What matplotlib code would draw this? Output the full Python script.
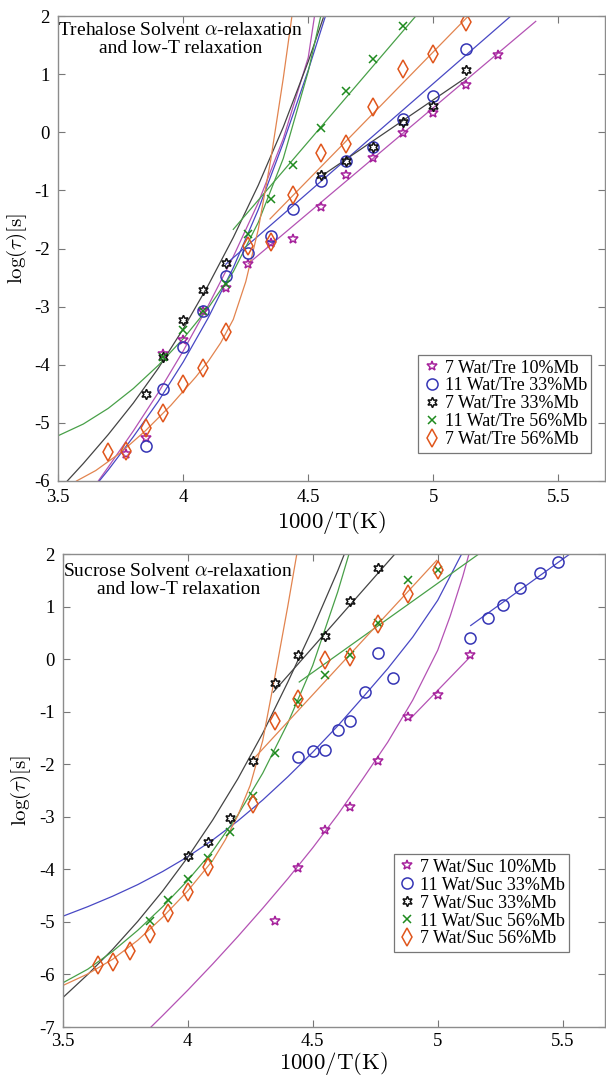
import matplotlib
matplotlib.use("Agg")
import matplotlib.pyplot as plt

plt.rcParams["font.family"] = ["Liberation Serif", "DejaVu Serif"]
plt.rcParams["mathtext.fontset"] = "cm"

# ---- Trehalose panel: measured points ----
tre_x_10 = [3.77, 3.85, 3.92, 4.0, 4.08, 4.17, 4.26, 4.35, 4.44, 4.55, 4.65, 4.76, 4.88, 5.0, 5.13, 5.26]
tre_y_10 = [-5.54, -5.26, -3.82, -3.57, -3.07, -2.68, -2.26, -1.91, -1.84, -1.29, -0.74, -0.45, -0.01, 0.33, 0.81, 1.33]
tre_x_33b = [3.85, 3.92, 4.0, 4.08, 4.17, 4.26, 4.35, 4.44, 4.55, 4.65, 4.76, 4.88, 5.0, 5.13]
tre_y_33b = [-5.39, -4.42, -3.69, -3.07, -2.48, -2.08, -1.78, -1.32, -0.83, -0.49, -0.26, 0.23, 0.62, 1.44]
tre_x_33k = [3.85, 3.92, 4.0, 4.08, 4.17, 4.55, 4.65, 4.76, 4.88, 5.0, 5.13]
tre_y_33k = [-4.51, -3.87, -3.23, -2.71, -2.25, -0.74, -0.49, -0.26, 0.18, 0.45, 1.07]
tre_x_56g = [3.92, 4.0, 4.08, 4.17, 4.26, 4.35, 4.44, 4.55, 4.65, 4.76, 4.88]
tre_y_56g = [-3.87, -3.40, -3.07, -2.61, -1.75, -1.15, -0.57, 0.08, 0.72, 1.27, 1.83]
tre_x_56o = [3.70, 3.77, 3.85, 3.92, 4.0, 4.08, 4.17, 4.26, 4.35, 4.44, 4.55, 4.65, 4.76, 4.88, 5.0, 5.13]
tre_y_56o = [-5.50, -5.49, -5.09, -4.83, -4.33, -4.05, -3.43, -1.95, -1.88, -1.07, -0.36, -0.20, 0.44, 1.09, 1.34, 1.90]

# alpha-relaxation fit curves
tre_fx_10 = [3.66, 3.7, 3.8, 3.9, 4.0, 4.1, 4.2, 4.3, 4.4, 4.5, 4.525]
tre_fy_10 = [-6.0, -5.76, -5.14, -4.48, -3.76, -2.98, -2.14, -1.21, -0.11, 1.29, 2.0]
tre_fx_33b = [3.664, 3.7, 3.8, 3.9, 4.0, 4.1, 4.2, 4.3, 4.4, 4.5, 4.571]
tre_fy_33b = [-6.0, -5.81, -5.24, -4.63, -3.95, -3.19, -2.33, -1.33, -0.18, 1.07, 2.03]
tre_fx_33k = [3.536, 3.6, 3.7, 3.8, 3.9, 4.0, 4.1, 4.2, 4.3, 4.4, 4.5, 4.56]
tre_fy_33k = [-6.0, -5.70, -5.20, -4.66, -4.06, -3.38, -2.63, -1.81, -0.91, 0.09, 1.22, 1.97]
tre_fx_56g = [3.5, 3.6, 3.7, 3.8, 3.9, 4.0, 4.1, 4.2, 4.3, 4.4, 4.5, 4.55]
tre_fy_56g = [-5.22, -5.02, -4.75, -4.41, -4.01, -3.55, -3.02, -2.40, -1.55, -0.45, 1.05, 2.0]
tre_fx_56o = [3.573, 3.65, 3.75, 3.85, 3.95, 4.05, 4.1, 4.15, 4.2, 4.25, 4.3, 4.35, 4.4, 4.434]
tre_fy_56o = [-6.0, -5.82, -5.51, -5.13, -4.70, -4.21, -3.94, -3.62, -3.22, -2.57, -1.67, -0.47, 0.93, 1.98]

# low-T relaxation lines
tre_lx_10, tre_ly_10 = [4.26, 5.41], [-2.26, 1.91]
tre_lx_33b, tre_ly_33b = [4.17, 5.31], [-2.27, 2.0]
tre_lx_33k, tre_ly_33k = [4.55, 5.13], [-0.76, 0.94]
tre_lx_56g, tre_ly_56g = [4.2, 4.93], [-1.67, 2.0]
tre_lx_56o, tre_ly_56o = [4.347, 5.14], [-1.49, 2.0]

# ---- Sucrose panel: measured points ----
suc_x_10 = [4.35, 4.44, 4.55, 4.65, 4.76, 4.88, 5.0, 5.13]
suc_y_10 = [-4.99, -3.97, -3.25, -2.82, -1.93, -1.10, -0.69, 0.08]
suc_x_33b = [4.44, 4.50, 4.55, 4.60, 4.65, 4.71, 4.76, 4.82, 5.13, 5.20, 5.26, 5.33, 5.41, 5.48]
suc_y_33b = [-1.86, -1.74, -1.73, -1.35, -1.18, -0.63, 0.11, -0.36, 0.41, 0.78, 1.03, 1.36, 1.64, 1.85]
suc_x_33k = [4.0, 4.08, 4.17, 4.26, 4.35, 4.44, 4.55, 4.65, 4.76]
suc_y_33k = [-3.75, -3.48, -3.02, -1.93, -0.45, 0.08, 0.44, 1.10, 1.73]
suc_x_56g = [3.85, 3.92, 4.0, 4.08, 4.17, 4.26, 4.35, 4.44, 4.55, 4.65, 4.76, 4.88, 5.0]
suc_y_56g = [-4.99, -4.59, -4.18, -3.78, -3.29, -2.61, -1.79, -0.82, -0.31, 0.08, 0.68, 1.51, 1.70]
suc_x_56o = [3.64, 3.70, 3.77, 3.85, 3.92, 4.0, 4.08, 4.26, 4.35, 4.44, 4.55, 4.65, 4.76, 4.88, 5.0]
suc_y_56o = [-5.82, -5.76, -5.55, -5.23, -4.83, -4.44, -3.96, -2.76, -1.18, -0.75, -0.02, 0.05, 0.67, 1.24, 1.69]

suc_fx_10 = [3.853, 3.9, 4.0, 4.1, 4.2, 4.3, 4.4, 4.5, 4.6, 4.7, 4.8, 4.9, 5.0, 5.05, 5.1, 5.125]
suc_fy_10 = [-7.0, -6.78, -6.30, -5.80, -5.28, -4.74, -4.18, -3.59, -2.96, -2.28, -1.58, -0.78, 0.17, 0.82, 1.57, 2.0]
suc_fx_33b = [3.496, 3.6, 3.7, 3.8, 3.9, 4.0, 4.1, 4.2, 4.3, 4.4, 4.5, 4.6, 4.7, 4.8, 4.9, 5.0, 5.1]
suc_fy_33b = [-4.9, -4.71, -4.51, -4.29, -4.04, -3.76, -3.44, -3.08, -2.68, -2.24, -1.77, -1.27, -0.73, -0.18, 0.42, 1.12, 2.04]
suc_fx_33k = [3.496, 3.6, 3.7, 3.8, 3.9, 4.0, 4.1, 4.2, 4.3, 4.4, 4.5, 4.6, 4.63]
suc_fy_33k = [-6.46, -6.0, -5.52, -4.99, -4.41, -3.77, -3.06, -2.28, -1.41, -0.44, 0.58, 1.68, 2.04]
suc_fx_56g = [3.496, 3.6, 3.7, 3.8, 3.9, 4.0, 4.1, 4.2, 4.3, 4.4, 4.5, 4.6, 4.65]
suc_fy_56g = [-6.17, -5.90, -5.56, -5.16, -4.71, -4.21, -3.65, -2.97, -2.17, -1.22, -0.12, 1.28, 2.08]
suc_fx_56o = [3.496, 3.6, 3.7, 3.8, 3.9, 4.0, 4.1, 4.15, 4.2, 4.25, 4.3, 4.35, 4.4, 4.44]
suc_fy_56o = [-6.22, -5.99, -5.71, -5.35, -4.91, -4.41, -3.83, -3.44, -2.98, -2.40, -1.55, -0.30, 1.0, 2.1]

suc_lx_10, suc_ly_10 = [4.889, 5.129], [-1.14, 0.04]
suc_lx_33b, suc_ly_33b = [5.132, 5.54], [0.64, 2.04]
suc_lx_33k, suc_ly_33k = [4.342, 4.836], [-0.63, 2.04]
suc_lx_56g, suc_ly_56g = [4.446, 5.176], [-0.435, 2.04]
suc_lx_56o, suc_ly_56o = [4.263, 4.996], [-1.90, 1.88]

tre_labels = ["7 Wat/Tre 10%Mb", "11 Wat/Tre 33%Mb", "7 Wat/Tre 33%Mb",
              "11 Wat/Tre 56%Mb", "7 Wat/Tre 56%Mb"]
suc_labels = ["7 Wat/Suc 10%Mb", "11 Wat/Suc 33%Mb", "7 Wat/Suc 33%Mb",
              "11 Wat/Suc 56%Mb", "7 Wat/Suc 56%Mb"]

# marker styles per series (purple star, blue circle, black hexagram, green x, orange diamond)
mk = ["*", "o", (6, 1, 0), "x", "d"]
msz = [7.5, 8, 7.5, 5.5, 9]
mcol = ["#a6229c", "#3535b5", "#111111", "#1e8a1e", "#e0561c"]
lcol = ["#b452b4", "#4848c4", "#444444", "#48a048", "#e2844f"]

fig = plt.figure(figsize=(6.06, 10.76), dpi=100)
ax1 = fig.add_axes([0.0962, 0.553, 0.9021, 0.432])
ax2 = fig.add_axes([0.1035, 0.0455, 0.8948, 0.4396])

panels = [
    (ax1, tre_labels,
     [(tre_x_10, tre_y_10), (tre_x_33b, tre_y_33b), (tre_x_33k, tre_y_33k), (tre_x_56g, tre_y_56g), (tre_x_56o, tre_y_56o)],
     [(tre_fx_10, tre_fy_10), (tre_fx_33b, tre_fy_33b), (tre_fx_33k, tre_fy_33k), (tre_fx_56g, tre_fy_56g), (tre_fx_56o, tre_fy_56o)],
     [(tre_lx_10, tre_ly_10), (tre_lx_33b, tre_ly_33b), (tre_lx_33k, tre_ly_33k), (tre_lx_56g, tre_ly_56g), (tre_lx_56o, tre_ly_56o)],
     "Trehalose Solvent $\\alpha$-relaxation\nand low-T relaxation", (5.687, -6, 2), (0.817, 0.166), (0.224, 0.987), 2, 6),
    (ax2, suc_labels,
     [(suc_x_10, suc_y_10), (suc_x_33b, suc_y_33b), (suc_x_33k, suc_y_33k), (suc_x_56g, suc_y_56g), (suc_x_56o, suc_y_56o)],
     [(suc_fx_10, suc_fy_10), (suc_fx_33b, suc_fy_33b), (suc_fx_33k, suc_fy_33k), (suc_fx_56g, suc_fy_56g), (suc_fx_56o, suc_fy_56o)],
     [(suc_lx_10, suc_ly_10), (suc_lx_33b, suc_ly_33b), (suc_lx_33k, suc_ly_33k), (suc_lx_56g, suc_ly_56g), (suc_lx_56o, suc_ly_56o)],
     "Sucrose Solvent $\\alpha$-relaxation\nand low-T relaxation", (5.669, -7, 2), (0.772, 0.262), (0.213, 0.981), 0, 4),
]

for ax, labels, pts, fits, lows, title, lims, legpos, titlepos, xpad, tpad in panels:
    for i in range(5):
        ax.plot(fits[i][0], fits[i][1], color=lcol[i], lw=0.9)
        ax.plot(lows[i][0], lows[i][1], color=lcol[i], lw=0.9)
    for i in range(5):
        ax.plot(pts[i][0], pts[i][1], ls="none", marker=mk[i], ms=msz[i],
                mfc="none", mec=mcol[i], mew=1.1, label=labels[i])
    ax.set_xlim(3.5, lims[0])
    ax.set_ylim(lims[1], lims[2])
    ax.set_xticks([3.5, 4, 4.5, 5, 5.5])
    ax.set_xticklabels(["3.5", "4", "4.5", "5", "5.5"])
    ax.set_yticks(range(lims[1], lims[2] + 1))
    ax.set_yticklabels([str(v) for v in range(lims[1], lims[2] + 1)])
    ax.tick_params(direction="in", top=True, right=True, length=5, width=0.8,
                   color="#777777", labelsize=13.5, pad=6)
    ax.tick_params(axis="x", pad=tpad)
    for s in ax.spines.values():
        s.set_color("#8c8c8c")
        s.set_linewidth(1.0)
    ax.set_xlabel("$\\mathrm{1000/T(K)}$", fontsize=16.5, labelpad=xpad)
    ax.set_ylabel("$\\log(\\tau)[\\mathrm{s}]$", fontsize=15, labelpad=4)
    ax.text(titlepos[0], titlepos[1], title, transform=ax.transAxes, ha="center",
            va="top", multialignment="center", fontsize=14, linespacing=1.1)
    leg = ax.legend(loc="center", bbox_to_anchor=legpos, fontsize=13, labelspacing=0.05,
                    handletextpad=0.2, handlelength=1.0, borderpad=0.25, fancybox=False,
                    framealpha=1, edgecolor="#777777", borderaxespad=0)
    leg.get_frame().set_linewidth(0.9)

fig.savefig("out.png", dpi=100)
